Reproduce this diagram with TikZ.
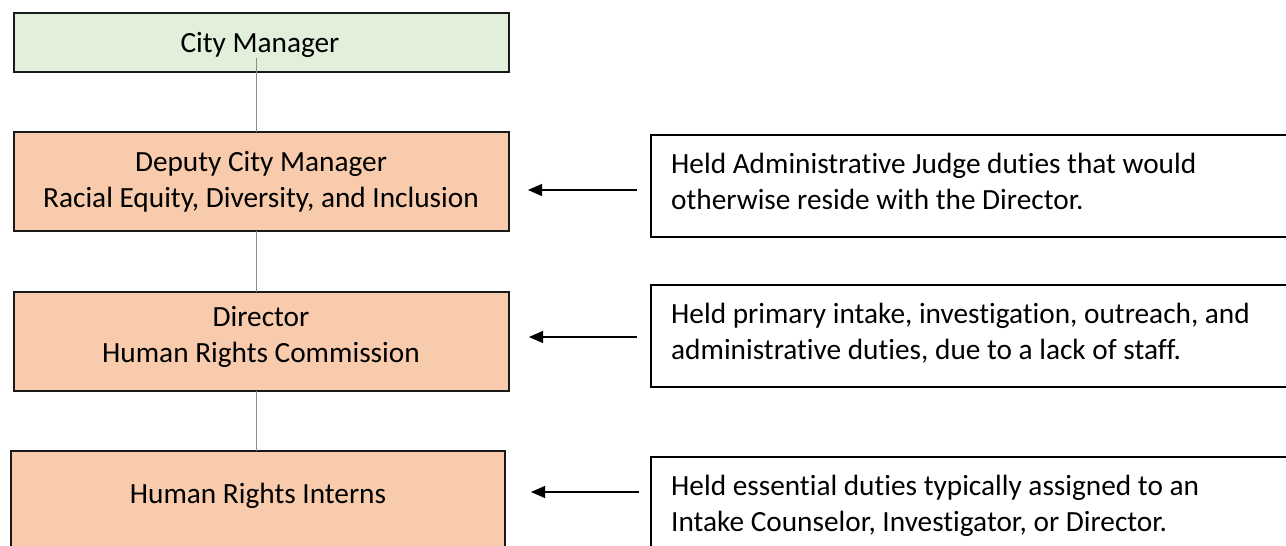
\documentclass[tikz,border=0pt]{standalone}
\usepackage{fontspec}
\setmainfont{Carlito}[Ligatures=NoCommon]
\usetikzlibrary{arrows.meta}
\definecolor{cmgreen}{HTML}{E2EFDA}
\definecolor{orgfill}{HTML}{F8CBAD}
\definecolor{linkgray}{HTML}{8C8C8C}
\tikzset{
  orgbox/.style={draw=black!90, line width=1.4pt, fill=orgfill, inner sep=0pt, outer sep=0pt},
  notebox/.style={draw=black, line width=1.5pt, fill=white, inner sep=0pt, outer sep=0pt},
  link/.style={draw=linkgray, line width=0.9pt},
  arr/.style={draw=black, line width=1.1pt, -{Triangle[length=14pt,width=12pt]}},
  txt/.style={anchor=base, inner sep=0pt, font=\fontsize{29.3}{36}\selectfont},
  ltxt/.style={anchor=base west, inner sep=0pt, font=\fontsize{29.3}{36}\selectfont}
}
\begin{document}
\begin{tikzpicture}[x=1pt,y=-1pt]
\useasboundingbox[fill=white] (0,0) rectangle (1286,546);
% left column boxes
\node[orgbox, fill=cmgreen, minimum width=495pt, minimum height=59pt, anchor=north west] (cm) at (14,13) {};
\node[orgbox, minimum width=495pt, minimum height=99pt, anchor=north west] (dep) at (14,132) {};
\node[orgbox, minimum width=495pt, minimum height=99pt, anchor=north west] (dir) at (14,292) {};
\node[orgbox, minimum width=494pt, minimum height=110pt, anchor=north west] (int) at (11,451) {};
% right note boxes
\node[notebox, minimum width=660pt, minimum height=102pt, anchor=north west] (r1) at (651,135) {};
\node[notebox, minimum width=660pt, minimum height=102pt, anchor=north west] (r2) at (651,285) {};
\node[notebox, minimum width=660pt, minimum height=110pt, anchor=north west] (r3) at (651,457) {};
% texts left
\node[txt] (tcm) at (260,52) {City Manager};
\node[txt] (tdep1) at (261,171) {Deputy City Manager};
\node[txt] (tdep2) at (261,207) {Racial Equity, Diversity, and Inclusion};
\node[txt] (tdir1) at (261,326) {Director};
\node[txt] (tdir2) at (261,362) {Human Rights Commission};
\node[txt] (tint) at (258,503) {Human Rights Interns};
% texts right
\node[ltxt] (n1a) at (671,173) {Held Administrative Judge duties that would};
\node[ltxt] (n1b) at (671,209) {otherwise reside with the Director.};
\node[ltxt] (n2a) at (671,323) {Held primary intake, investigation, outreach, and};
\node[ltxt] (n2b) at (671,359) {administrative duties, due to a lack of staff.};
\node[ltxt] (n3a) at (671,495) {Held essential duties typically assigned to an};
\node[ltxt] (n3b) at (671,531) {Intake Counselor, Investigator, or Director.};
% vertical links
\coordinate (cmlow) at (256,58);
\draw[link] (cmlow) -- (cmlow |- dep.north);
\draw[link] (dep.south -| 256,0) -- (dir.north -| 256,0);
\draw[link] (dir.south -| 256,0) -- (int.north -| 256,0);
% arrows
\coordinate (a1s) at (637,190); \coordinate (a1e) at (528,190);
\coordinate (a2s) at (637,337); \coordinate (a2e) at (529,337);
\coordinate (a3s) at (639,492); \coordinate (a3e) at (531,492);
\draw[arr] (a1s) -- (a1e);
\draw[arr] (a2s) -- (a2e);
\draw[arr] (a3s) -- (a3e);
\end{tikzpicture}
\end{document}
